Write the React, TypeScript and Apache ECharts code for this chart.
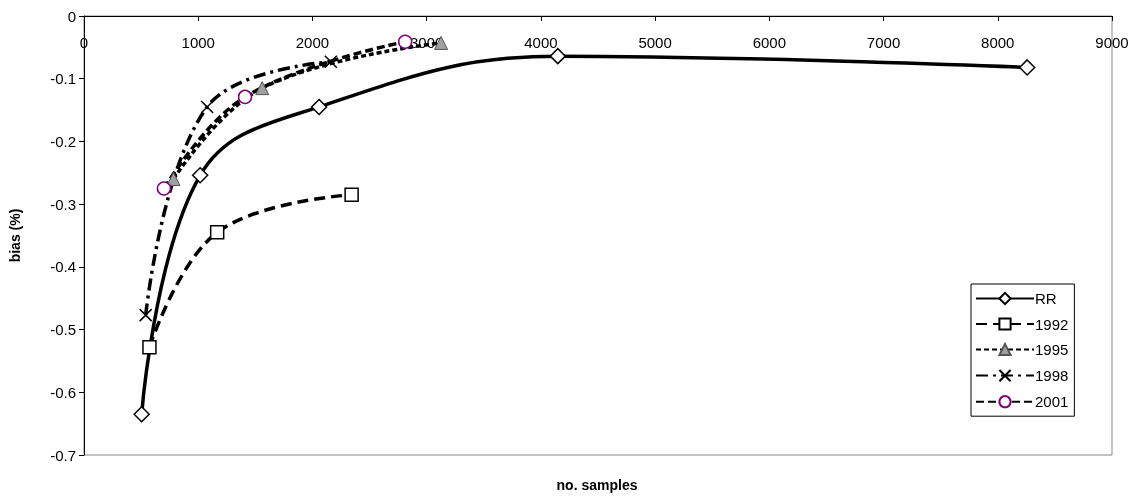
import React, { useEffect, useRef } from "react";
import * as echarts from "echarts";

const seriesNames = ["RR", "1992", "1995", "1998", "2001"];
const rrData: [number, number][] = [[505, -0.635], [1017, -0.254], [2058, -0.145], [4148, -0.064], [8257, -0.082]];
const d1992: [number, number][] = [[573, -0.528], [1166, -0.345], [2343, -0.285]];
const d1995: [number, number][] = [[783, -0.26], [1560, -0.115], [3126, -0.043]];
const d1998: [number, number][] = [[540, -0.477], [1078, -0.145], [2161, -0.073]];
const d2001: [number, number][] = [[700, -0.275], [1410, -0.129], [2812, -0.041]];

const xName = "no. samples";
const yName = "bias (%)";

const FONT = "Liberation Sans, Arial, sans-serif";

export default function App() {
  const ref = useRef<HTMLDivElement>(null);
  useEffect(() => {
    if (!ref.current) return;
    const chart = echarts.init(ref.current, undefined, { renderer: "svg" });
    const base = (name: string, data: [number, number][], symbol: string, size: number, item: any, dash: any) => ({
      name,
      type: "line",
      data,
      smooth: 0.4,
      symbol,
      symbolSize: size,
      showSymbol: true,
      lineStyle: { color: "#000", width: 3.5, type: dash },
      itemStyle: item,
      z: 2,
    });
    chart.setOption({
      animation: false,
      textStyle: { fontFamily: FONT },
      grid: { left: 83, right: 26, top: 16, bottom: 46, show: true, borderColor: "#888", borderWidth: 1 },
      xAxis: {
        type: "value",
        min: 0,
        max: 9000,
        interval: 1000,
        position: "top",
        axisLine: { show: true, onZero: false, lineStyle: { color: "#000", width: 1 } },
        axisTick: { show: true, inside: true, length: 5, lineStyle: { color: "#000" } },
        axisLabel: {
          inside: true,
          margin: 19,
          color: "#000",
          fontSize: 15,
          fontFamily: FONT,
          showMinLabel: true,
          showMaxLabel: true,
          formatter: (v: number) => String(v),
        },
        splitLine: { show: false },
      },
      yAxis: {
        type: "value",
        min: -0.7,
        max: 0,
        interval: 0.1,
        name: yName,
        nameLocation: "middle",
        nameRotate: 90,
        nameGap: 62,
        nameTextStyle: { color: "#000", fontSize: 14, fontWeight: "bold", fontFamily: FONT },
        axisLine: { show: true, lineStyle: { color: "#000", width: 1 } },
        axisTick: { show: true, length: 5, lineStyle: { color: "#000" } },
        axisLabel: { margin: 8, color: "#000", fontSize: 15, fontFamily: FONT },
        splitLine: { show: false },
      },
      legend: {
        orient: "vertical",
        left: 971,
        top: 284,
        data: seriesNames,
        itemWidth: 58,
        itemHeight: 14,
        itemGap: 10.5,
        padding: [7, 6, 7, 4],
        borderColor: "#000",
        borderWidth: 1,
        textStyle: { color: "#000", fontSize: 15, fontFamily: FONT, padding: [0, 0, 0, -4] },
      },
      graphic: [
        {
          type: "text",
          x: 597,
          y: 485,
          style: { text: xName, fill: "#000", font: `bold 14px ${FONT}`, align: "center", verticalAlign: "middle" },
        },
      ],
      series: [
        base(seriesNames[0], rrData, "diamond", 15, { color: "#fff", borderColor: "#000", borderWidth: 1.5 }, "solid"),
        base(seriesNames[1], d1992, "rect", 13, { color: "#fff", borderColor: "#000", borderWidth: 1.5 }, [11, 6]),
        base(seriesNames[2], d1995, "triangle", 13, { color: "#a0a0a0", borderColor: "#555", borderWidth: 1 }, [5, 3]),
        base(seriesNames[3], d1998, "path://M0,0L10,10M10,0L0,10", 12, { color: "none", borderColor: "#000", borderWidth: 1.5 }, [12, 5, 3, 5]),
        base(seriesNames[4], d2001, "circle", 13, { color: "#fff", borderColor: "#800080", borderWidth: 1.5 }, [8, 4]),
      ],
    });
    return () => chart.dispose();
  }, []);
  return <div ref={ref} style={{ position: "fixed", left: 0, top: 0, width: 1138, height: 501 }} />;
}
